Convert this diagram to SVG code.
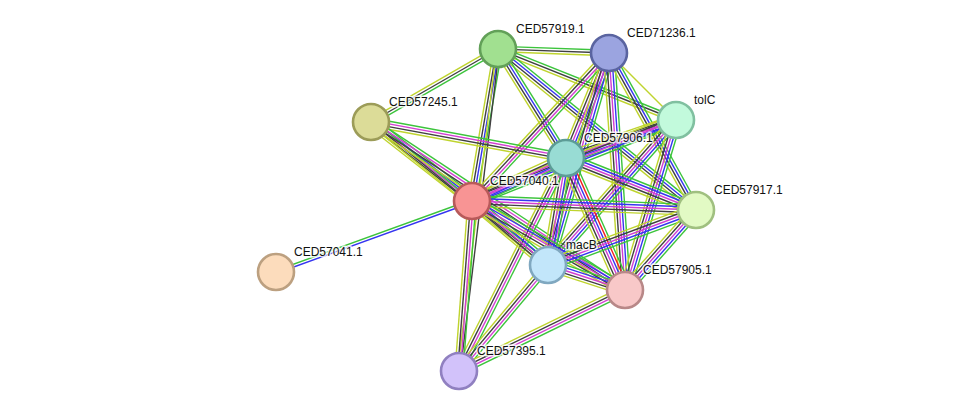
<svg xmlns="http://www.w3.org/2000/svg" xmlns:xlink="http://www.w3.org/1999/xlink" width="976" height="417" viewBox="0 0 976 417">
<style>
.l{stroke-width:1.4;fill:none;vector-effect:non-scaling-stroke}
.g{stroke:#3cc43c}.b{stroke:#3535f0}.m{stroke:#d23fd2}.k{stroke:#404040}.y{stroke:#bfd42e}.r{stroke:#f02020}
.n{stroke-width:2.6}
text{font-family:"Liberation Sans",Arial,sans-serif;font-size:12px;fill:#111;paint-order:stroke;stroke:#fff;stroke-width:3px;stroke-opacity:0.8}
</style>
<defs>
<g id="GBMKY"><line class="l g" x1="0" y1="-5.4" x2="1" y2="-5.4"/><line class="l b" x1="0" y1="-2.7" x2="1" y2="-2.7"/><line class="l m" x1="0" y1="0" x2="1" y2="0"/><line class="l k" x1="0" y1="2.7" x2="1" y2="2.7"/><line class="l y" x1="0" y1="5.4" x2="1" y2="5.4"/></g>
<g id="GRBMKY"><line class="l g" x1="0" y1="-6.75" x2="1" y2="-6.75"/><line class="l r" x1="0" y1="-4.05" x2="1" y2="-4.05"/><line class="l b" x1="0" y1="-1.35" x2="1" y2="-1.35"/><line class="l m" x1="0" y1="1.35" x2="1" y2="1.35"/><line class="l k" x1="0" y1="4.05" x2="1" y2="4.05"/><line class="l y" x1="0" y1="6.75" x2="1" y2="6.75"/></g>
<g id="GMKY"><line class="l g" x1="0" y1="-4.05" x2="1" y2="-4.05"/><line class="l m" x1="0" y1="-1.35" x2="1" y2="-1.35"/><line class="l k" x1="0" y1="1.35" x2="1" y2="1.35"/><line class="l y" x1="0" y1="4.05" x2="1" y2="4.05"/></g>
<g id="GBKY"><line class="l g" x1="0" y1="-4.05" x2="1" y2="-4.05"/><line class="l b" x1="0" y1="-1.35" x2="1" y2="-1.35"/><line class="l k" x1="0" y1="1.35" x2="1" y2="1.35"/><line class="l y" x1="0" y1="4.05" x2="1" y2="4.05"/></g>
<g id="GKY"><line class="l g" x1="0" y1="-2.7" x2="1" y2="-2.7"/><line class="l k" x1="0" y1="0" x2="1" y2="0"/><line class="l y" x1="0" y1="2.7" x2="1" y2="2.7"/></g>
<g id="KY"><line class="l k" x1="0" y1="-1.35" x2="1" y2="-1.35"/><line class="l y" x1="0" y1="1.35" x2="1" y2="1.35"/></g>
<g id="BG"><line class="l b" x1="0" y1="-1.35" x2="1" y2="-1.35"/><line class="l g" x1="0" y1="1.35" x2="1" y2="1.35"/></g>
<g id="Y"><line class="l y" x1="0" y1="0" x2="1" y2="0"/></g>
</defs>
<rect width="976" height="417" fill="#fff"/>
<g id="edges">
<use href="#GKY" transform="translate(498 49) rotate(2.06) scale(111.07 1)"/>
<use href="#GKY" transform="translate(498 49) rotate(150.11) scale(146.5 1)"/>
<use href="#GBKY" transform="translate(498 49) rotate(99.71) scale(154.2 1)"/>
<use href="#GKY" transform="translate(498 49) rotate(21.75) scale(191.6 1)"/>
<use href="#GBKY" transform="translate(498 49) rotate(39.11) scale(255.2 1)"/>
<use href="#GBKY" transform="translate(498 49) rotate(58.04) scale(128.5 1)"/>
<use href="#KY" transform="translate(498 49) rotate(96.91) scale(324.4 1)"/>
<use href="#GBMKY" transform="translate(609 53) rotate(112.27) scale(113.5 1)"/>
<use href="#GMKY" transform="translate(609 53) rotate(132.79) scale(201.7 1)"/>
<use href="#GBMKY" transform="translate(609 53) rotate(106.05) scale(220.6 1)"/>
<use href="#GBMKY" transform="translate(609 53) rotate(86.14) scale(237.5 1)"/>
<use href="#GBKY" transform="translate(609 53) rotate(61) scale(179.5 1)"/>
<use href="#Y" transform="translate(609 53) rotate(45) scale(94.75 1)"/>
<use href="#GBMKY" transform="translate(371 122) rotate(38.03) scale(128.2 1)"/>
<use href="#GMKY" transform="translate(371 122) rotate(10.46) scale(198.3 1)"/>
<use href="#GKY" transform="translate(371 122) rotate(38.94) scale(227.5 1)"/>
<use href="#GMKY" transform="translate(371 122) rotate(33.48) scale(304.5 1)"/>
<use href="#GBMKY" transform="translate(676 120) rotate(160.94) scale(116.4 1)"/>
<use href="#GBMKY" transform="translate(676 120) rotate(158.35) scale(219.5 1)"/>
<use href="#GBMKY" transform="translate(676 120) rotate(131.44) scale(193.4 1)"/>
<use href="#GBMKY" transform="translate(676 120) rotate(106.7) scale(177.5 1)"/>
<use href="#GBMKY" transform="translate(566 158) rotate(155.42) scale(103.4 1)"/>
<use href="#GBMKY" transform="translate(566 158) rotate(21.8) scale(140 1)"/>
<use href="#GBMKY" transform="translate(566 158) rotate(99.55) scale(108.5 1)"/>
<use href="#GRBMKY" transform="translate(566 158) rotate(65.92) scale(144.6 1)"/>
<use href="#GMKY" transform="translate(566 158) rotate(116.67) scale(238.4 1)"/>
<use href="#GBMKY" transform="translate(472 201) rotate(2.3) scale(224.2 1)"/>
<use href="#GBMKY" transform="translate(472 201) rotate(40.1) scale(99.4 1)"/>
<use href="#GBMKY" transform="translate(472 201) rotate(30.18) scale(177 1)"/>
<use href="#GMKY" transform="translate(472 201) rotate(94.37) scale(170.5 1)"/>
<use href="#BG" transform="translate(472 201) rotate(160.09) scale(208.5 1)"/>
<use href="#GBMKY" transform="translate(696 210) rotate(159.61) scale(157.9 1)"/>
<use href="#GBMKY" transform="translate(696 210) rotate(131.59) scale(107 1)"/>
<use href="#GBMKY" transform="translate(548 265) rotate(17.99) scale(81 1)"/>
<use href="#GMKY" transform="translate(548 265) rotate(130.02) scale(138.4 1)"/>
<use href="#GMKY" transform="translate(625 290) rotate(153.99) scale(184.7 1)"/>
</g>
<g id="CED57919.1"><circle class="n" cx="498" cy="49" r="18" fill="#a1e090" stroke="#62a058"/><text x="516" y="33">CED57919.1</text></g>
<g id="CED71236.1"><circle class="n" cx="609" cy="53" r="18" fill="#9ba4e0" stroke="#5a64a0"/><text x="627" y="37">CED71236.1</text></g>
<g id="CED57245.1"><circle class="n" cx="371" cy="122" r="18" fill="#dcdc98" stroke="#9c9c58"/><text x="389" y="106">CED57245.1</text></g>
<g id="tolC"><circle class="n" cx="676" cy="120" r="18" fill="#c2fadc" stroke="#80c0a0"/><text x="694" y="104">tolC</text></g>
<g id="CED57906.1"><circle class="n" cx="566" cy="158" r="18" fill="#98dcd4" stroke="#5c9c96"/><text x="584" y="142">CED57906.1</text></g>
<g id="CED57040.1"><circle class="n" cx="472" cy="201" r="18" fill="#f89494" stroke="#b85a5a"/><text x="490" y="185">CED57040.1</text></g>
<g id="CED57917.1"><circle class="n" cx="696" cy="210" r="18" fill="#e2fac4" stroke="#a0c080"/><text x="714" y="194">CED57917.1</text></g>
<g id="CED57041.1"><circle class="n" cx="276" cy="272" r="18" fill="#fcdcbc" stroke="#bca080"/><text x="294" y="256">CED57041.1</text></g>
<g id="macB"><circle class="n" cx="548" cy="265" r="18" fill="#c2e6fa" stroke="#80a8c0"/><text x="566" y="249">macB</text></g>
<g id="CED57905.1"><circle class="n" cx="625" cy="290" r="18" fill="#f8c8c8" stroke="#b88888"/><text x="643" y="274">CED57905.1</text></g>
<g id="CED57395.1"><circle class="n" cx="459" cy="371" r="18" fill="#d2c2fa" stroke="#9080c0"/><text x="477" y="355">CED57395.1</text></g>
</svg>
